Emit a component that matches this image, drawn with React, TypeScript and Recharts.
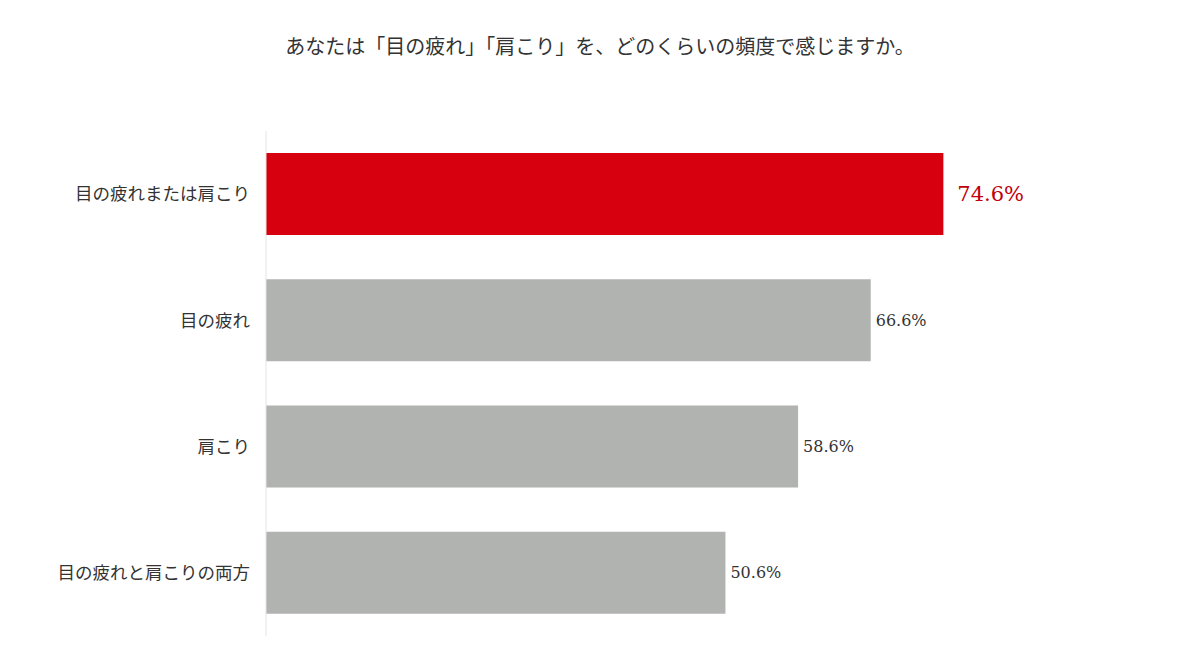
import { BarChart, Bar, XAxis, YAxis, Cell, LabelList } from 'recharts'

const categories = ['目の疲れまたは肩こり', '目の疲れ', '肩こり', '目の疲れと肩こりの両方']
const values = [74.6, 66.6, 58.6, 50.6]
const barColors = ['#d7000f', '#b1b3b0', '#b1b3b0', '#b1b3b0']

const data = categories.map((name, i) => ({ name, value: values[i] }))

const jpFont = '"Noto Sans CJK JP", sans-serif'
const numFont = '"DejaVu Serif", serif'

function ValueLabel(props: any) {
  const { x, y, width, height, value, index } = props
  const first = index === 0
  return (
    <text
      x={x + width + (first ? 14 : 5)}
      y={y + height / 2}
      dominantBaseline="central"
      fill={first ? '#c0000c' : '#333'}
      fontSize={first ? 21 : 16}
      fontFamily={numFont}
    >
      {`${value.toFixed(1)}%`}
    </text>
  )
}

export default function App() {
  return (
    <div style={{ position: 'relative', width: 1184, height: 655 }}>
      <div
        style={{
          position: 'absolute',
          top: 23,
          left: 0,
          width: 1184,
          textAlign: 'center',
          fontFamily: jpFont,
          fontSize: 20,
          color: '#333',
        }}
      >
        あなたは「目の疲れ」「肩こり」を、どのくらいの頻度で感じますか。
      </div>
      <BarChart
        width={1184}
        height={655}
        data={data}
        layout="vertical"
        margin={{ top: 123, right: 18, bottom: 27, left: 0 }}
      >
        <XAxis type="number" domain={[0, 100]} hide />
        <YAxis
          type="category"
          dataKey="name"
          width={258}
          tickLine={false}
          tickMargin={10}
          axisLine={{ stroke: '#e4e4e4' }}
          tick={{ fill: '#333', fontSize: 17.5, fontFamily: jpFont }}
        />
        <Bar dataKey="value" barSize={82} isAnimationActive={false}>
          {data.map((d, i) => (
            <Cell key={d.name} fill={barColors[i]} />
          ))}
          <LabelList dataKey="value" content={ValueLabel} />
        </Bar>
      </BarChart>
    </div>
  )
}
